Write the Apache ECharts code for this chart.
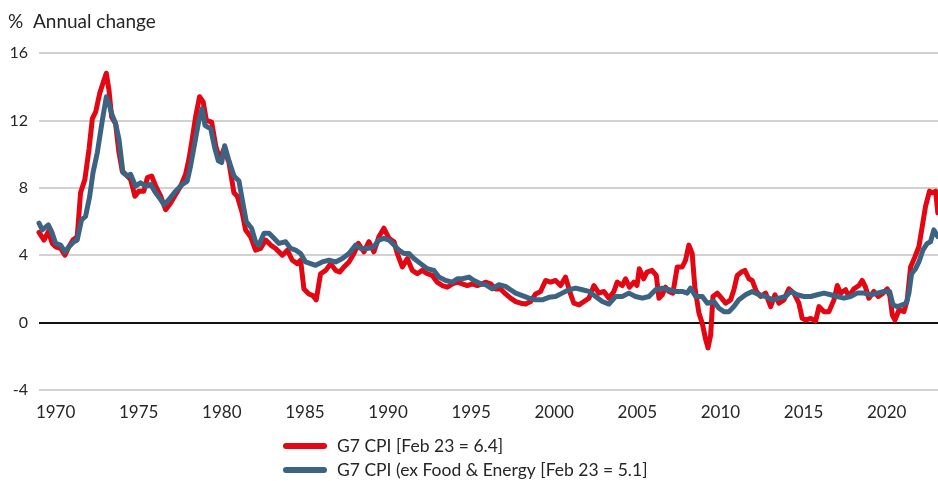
<!DOCTYPE html>
<html>
<head>
<meta charset="utf-8">
<script src="https://cdn.jsdelivr.net/npm/echarts@6/dist/echarts.min.js"></script>
<style>
  html, body { margin: 0; padding: 0; background: #ffffff; }
  #chart { width: 938px; height: 481px; }
</style>
</head>
<body>
<div id="chart"></div>
<script>
// ---- Data ----
const titleText = '%  Annual change';
const seriesNames = ['G7 CPI [Feb 23 = 6.4]', 'G7 CPI (ex Food & Energy [Feb 23 = 5.1]'];
const xTickLabels = [1970, 1975, 1980, 1985, 1990, 1995, 2000, 2005, 2010, 2015, 2020];
const yTicks = [-4, 0, 4, 8, 12, 16];

const redDates = [
  1969.00,1969.30,1969.56,1969.80,1970.00,1970.30,1970.56,1970.80,1971.04,1971.30,
  1971.50,1971.76,1972.01,1972.21,1972.41,1972.65,1972.91,1973.05,1973.21,1973.37,
  1973.61,1973.81,1974.01,1974.21,1974.51,1974.77,1975.01,1975.31,1975.52,1975.78,
  1976.02,1976.32,1976.62,1976.92,1977.22,1977.52,1977.82,1978.02,1978.22,1978.42,
  1978.66,1978.88,1979.07,1979.39,1979.63,1979.87,1980.13,1980.43,1980.73,1980.93,
  1981.23,1981.43,1981.73,1982.03,1982.33,1982.64,1982.94,1983.24,1983.64,1983.94,
  1984.24,1984.54,1984.74,1984.94,1985.24,1985.48,1985.68,1985.94,1986.25,1986.55,
  1986.85,1987.09,1987.35,1987.65,1987.95,1988.21,1988.55,1988.85,1989.15,1989.45,
  1989.75,1990.06,1990.36,1990.56,1990.86,1991.16,1991.46,1991.76,1992.06,1992.36,
  1992.66,1992.96,1993.26,1993.57,1993.87,1994.17,1994.47,1994.77,1995.07,1995.37,
  1995.67,1995.87,1996.17,1996.47,1996.77,1997.07,1997.37,1997.68,1997.98,1998.28,
  1998.58,1998.88,1999.18,1999.48,1999.78,2000.08,2000.38,2000.68,2000.98,2001.18,
  2001.49,2001.79,2002.09,2002.39,2002.69,2002.99,2003.29,2003.59,2003.79,2004.09,
  2004.29,2004.53,2004.79,2004.98,2005.12,2005.38,2005.58,2005.88,2006.14,2006.30,
  2006.50,2006.70,2006.90,2007.14,2007.40,2007.70,2007.90,2008.10,2008.30,2008.46,
  2008.71,2008.91,2009.11,2009.25,2009.41,2009.55,2009.81,2010.07,2010.31,2010.61,
  2010.81,2011.01,2011.27,2011.47,2011.71,2011.91,2012.16,2012.42,2012.72,2013.02,
  2013.28,2013.52,2013.82,2014.12,2014.42,2014.72,2014.92,2015.12,2015.43,2015.73,
  2015.93,2016.23,2016.53,2016.83,2017.03,2017.23,2017.53,2017.73,2018.03,2018.33,
  2018.53,2018.73,2018.93,2019.23,2019.50,2019.78,2020.04,2020.20,2020.34,2020.50,
  2020.74,2021.04,2021.24,2021.44,2021.70,2021.94,2022.14,2022.34,2022.58,2022.74,
  2022.95,2023.08
];
const redValues = [
  5.35,4.9,5.4,4.7,4.5,4.4,4.0,4.5,4.9,5.1,
  7.7,8.5,10.3,12.1,12.5,13.6,14.4,14.8,13.8,12.2,
  11.8,10.1,9.0,8.8,8.5,7.5,7.8,7.8,8.6,8.7,
  8.1,7.5,6.7,7.1,7.6,8.1,8.8,9.7,10.9,12.2,
  13.4,13.1,12.0,11.9,10.5,9.7,10.3,9.5,7.7,7.5,
  6.5,5.5,5.1,4.3,4.4,4.9,4.6,4.4,4.0,4.3,
  3.7,3.5,3.7,2.0,1.7,1.6,1.35,2.9,3.1,3.5,
  3.1,3.0,3.3,3.6,4.1,4.7,4.2,4.8,4.2,5.1,
  5.6,5.0,4.8,4.1,3.3,3.8,3.1,2.9,3.1,2.9,
  2.8,2.4,2.2,2.1,2.3,2.4,2.3,2.2,2.3,2.2,
  2.3,2.4,2.3,2.0,2.0,1.7,1.45,1.25,1.15,1.1,
  1.25,1.7,1.85,2.5,2.4,2.5,2.2,2.7,1.7,1.15,
  1.05,1.25,1.45,2.2,1.75,1.85,1.45,1.85,2.4,2.2,
  2.6,2.1,2.4,2.2,3.2,2.6,3.0,3.1,2.8,1.45,
  1.65,2.1,1.85,1.75,3.3,3.3,3.7,4.6,4.1,2.1,
  0.55,-0.05,-1.0,-1.5,-0.75,1.55,1.75,1.45,1.15,1.35,
  1.95,2.8,3.0,3.1,2.6,2.5,1.85,1.55,1.75,0.95,
  1.65,1.15,1.35,2.0,1.75,1.15,0.25,0.15,0.25,0.1,
  0.95,0.65,0.65,1.35,2.2,1.75,1.95,1.55,2.0,2.2,
  2.5,2.1,1.45,1.85,1.55,1.75,2.0,1.55,0.45,0.15,
  0.75,0.65,1.35,3.3,3.9,4.5,5.7,6.9,7.8,7.7,
  7.8,6.5
];

const blueDates = [
  1969.00,1969.20,1969.56,1969.76,1970.00,1970.30,1970.56,1970.80,1971.10,1971.30,
  1971.56,1971.80,1972.05,1972.25,1972.51,1972.81,1973.05,1973.21,1973.37,1973.61,
  1973.81,1974.05,1974.31,1974.51,1974.81,1975.11,1975.42,1975.72,1976.02,1976.32,
  1976.52,1976.82,1977.22,1977.62,1977.92,1978.12,1978.38,1978.62,1978.82,1978.99,
  1979.33,1979.59,1979.79,1979.99,1980.17,1980.43,1980.73,1981.03,1981.23,1981.47,
  1981.79,1982.03,1982.23,1982.54,1982.84,1983.14,1983.44,1983.84,1984.14,1984.44,
  1984.74,1985.04,1985.34,1985.64,1986.04,1986.45,1986.85,1987.25,1987.65,1988.05,
  1988.35,1988.75,1989.15,1989.45,1989.75,1990.06,1990.36,1990.66,1990.96,1991.26,
  1991.56,1991.96,1992.36,1992.76,1993.06,1993.47,1993.87,1994.17,1994.47,1994.87,
  1995.17,1995.57,1995.87,1996.27,1996.67,1997.07,1997.37,1997.68,1998.08,1998.48,
  1998.88,1999.28,1999.68,2000.08,2000.48,2000.88,2001.29,2001.69,2002.09,2002.49,
  2002.89,2003.29,2003.69,2004.09,2004.49,2004.89,2005.30,2005.70,2006.10,2006.50,
  2006.90,2007.30,2007.70,2008.00,2008.20,2008.51,2008.91,2009.21,2009.61,2009.91,
  2010.21,2010.51,2010.81,2011.11,2011.51,2011.91,2012.32,2012.72,2013.12,2013.52,
  2013.92,2014.22,2014.62,2015.02,2015.43,2015.83,2016.23,2016.63,2017.03,2017.43,
  2017.83,2018.23,2018.63,2019.04,2019.44,2019.84,2020.18,2020.38,2020.64,2020.94,
  2021.18,2021.34,2021.50,2021.74,2021.94,2022.18,2022.44,2022.64,2022.84,2023.08
];
const blueValues = [
  5.9,5.5,5.8,5.4,4.7,4.6,4.2,4.5,4.8,4.9,
  6.1,6.3,7.5,8.9,10.1,12.0,13.4,13.0,12.4,11.8,
  10.9,8.9,8.7,8.8,8.1,8.3,8.1,8.2,7.7,7.3,
  7.0,7.3,7.8,8.2,8.4,9.3,10.7,12.0,12.7,11.7,
  11.5,10.3,9.6,9.5,10.5,9.6,8.7,8.4,7.3,6.0,
  5.6,4.8,4.6,5.3,5.3,5.0,4.7,4.8,4.4,4.3,
  4.1,3.6,3.5,3.4,3.6,3.7,3.6,3.8,4.1,4.6,
  4.4,4.4,4.5,4.9,5.0,4.9,4.6,4.3,4.1,4.1,
  3.8,3.5,3.2,3.1,2.7,2.5,2.4,2.6,2.6,2.7,
  2.5,2.3,2.25,2.0,2.25,2.15,1.95,1.75,1.6,1.45,
  1.35,1.35,1.5,1.55,1.75,1.95,2.05,1.95,1.85,1.55,
  1.25,1.1,1.55,1.55,1.75,1.55,1.45,1.55,1.95,2.05,
  1.95,1.85,1.85,1.75,2.05,1.55,1.55,1.15,1.25,0.85,
  0.65,0.65,0.95,1.35,1.65,1.85,1.65,1.55,1.35,1.45,
  1.55,1.85,1.65,1.55,1.55,1.65,1.75,1.65,1.55,1.45,
  1.55,1.75,1.75,1.65,1.75,1.85,1.85,1.05,0.95,1.05,
  1.15,1.75,2.9,3.2,3.6,4.3,4.7,4.8,5.5,5.1
];

// ---- Chart ----
const zip = (xs, ys) => xs.map((x, i) => [x, ys[i]]);
const textColor = '#262626';
const font = 'Lato, "Open Sans", sans-serif';
const gridColors = yTicks.map(v => v === 0 ? '#111111' : '#d2d2d2');
const pill = 'path://M3,0 L41,0 A3,3 0 0 1 41,6 L3,6 A3,3 0 0 1 3,0 Z';

const chart = echarts.init(document.getElementById('chart'), null, { renderer: 'canvas' });
chart.setOption({
  animation: false,
  backgroundColor: '#ffffff',
  title: {
    text: titleText,
    left: 8,
    top: 12,
    padding: 0,
    textStyle: { fontFamily: font, fontSize: 19, fontWeight: 'normal', color: textColor }
  },
  legend: {
    orient: 'vertical',
    left: 283,
    top: 437,
    padding: 0,
    itemWidth: 44,
    itemHeight: 6,
    itemGap: 6,
    data: seriesNames.map(n => ({ name: n, icon: pill })),
    textStyle: { fontFamily: font, fontSize: 17.5, color: textColor, lineHeight: 18, padding: [0, 0, 0, 5] }
  },
  grid: { left: 39, right: 0, top: 53, bottom: 91, containLabel: false },
  xAxis: {
    type: 'value',
    min: 1969,
    max: 2023.09,
    axisLine: { show: false },
    axisTick: { show: false },
    splitLine: { show: false },
    axisLabel: {
      customValues: xTickLabels,
      margin: 14,
      fontFamily: font,
      fontSize: 17,
      color: textColor,
      formatter: v => String(v)
    }
  },
  yAxis: {
    type: 'value',
    min: yTicks[0],
    max: yTicks[yTicks.length - 1],
    interval: 4,
    axisLine: { show: false },
    axisTick: { show: false },
    axisLabel: { margin: 11, fontFamily: font, fontSize: 16, color: textColor },
    splitLine: { show: true, showMinLine: true, showMaxLine: true, lineStyle: { color: gridColors, width: 2 } }
  },
  series: [
    {
      name: seriesNames[0],
      type: 'line',
      data: zip(redDates, redValues),
      showSymbol: false,
      symbol: 'none',
      color: '#e30613',
      lineStyle: { width: 5, color: '#e30613', cap: 'round', join: 'round' },
      z: 2
    },
    {
      name: seriesNames[1],
      type: 'line',
      data: zip(blueDates, blueValues),
      showSymbol: false,
      symbol: 'none',
      color: '#3d6383',
      lineStyle: { width: 5, color: '#3d6383', cap: 'round', join: 'round' },
      z: 3
    }
  ]
});
</script>
</body>
</html>
